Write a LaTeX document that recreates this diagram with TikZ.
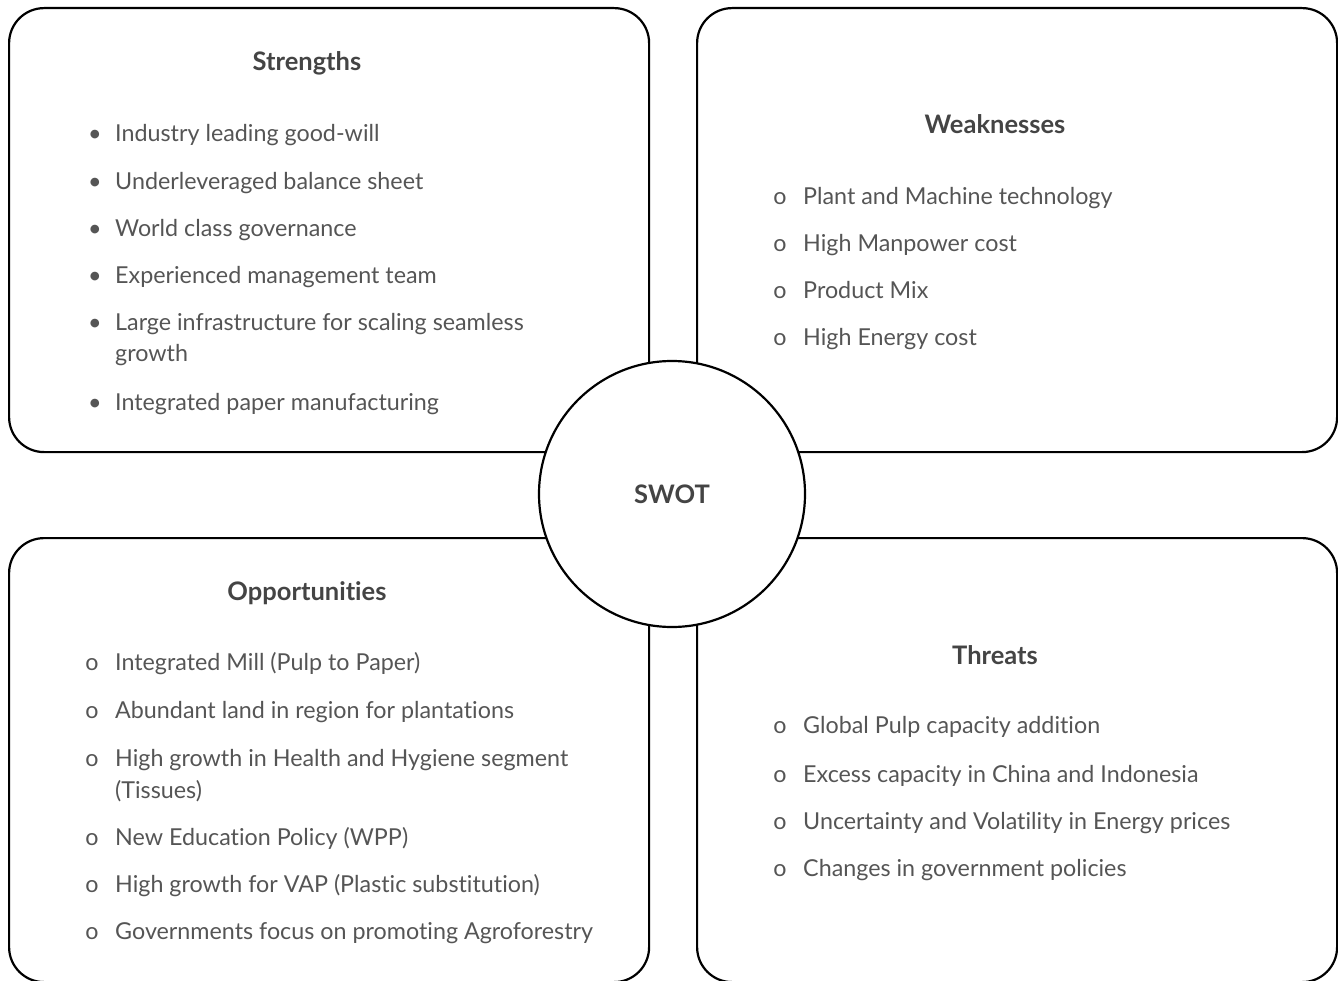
\documentclass[tikz,border=0pt]{standalone}
\usepackage{fontspec}
\setmainfont{Lato}[Ligatures=NoCommon]
\definecolor{txt}{HTML}{555555}
\definecolor{ttl}{HTML}{444444}
\begin{document}
\begin{tikzpicture}[x=1pt,y=-1pt,
  box/.style={draw=black, line width=2.2pt, rounded corners=35pt, minimum width=640pt, minimum height=444pt, anchor=north west, inner sep=0pt},
  item/.style={anchor=base west, inner sep=0pt, text=txt, font=\fontsize{23.3}{28}\selectfont},
  bul/.style={anchor=base, inner sep=0pt, text=txt, font=\fontsize{23.3}{28}\selectfont},
  ttlstyle/.style={anchor=base, inner sep=0pt, text=ttl, font=\fontsize{25.5}{30}\selectfont\bfseries}]
\useasboundingbox (0,0) rectangle (1338,981);
\node[box] (S) at (8,7) {};
\node[box] (W) at (696,7) {};
\node[box] (O) at (8,537) {};
\node[box] (T) at (696,537) {};
\node[circle, draw=black, fill=white, line width=2.2pt, minimum size=266pt, inner sep=0pt] (C) at (672,494) {};
\node[ttlstyle] (Clab) at (672,503) {SWOT};
% Strengths
\node[ttlstyle] (St) at (307,71) {Strengths};
\node[bul] (sb1) at (95,142) {•}; \node[item] (s1) at (115,142) {Industry leading good-will};
\node[bul] (sb2) at (95,190) {•}; \node[item] (s2) at (115,190) {Underleveraged balance sheet};
\node[bul] (sb3) at (95,237) {•}; \node[item] (s3) at (115,237) {World class governance};
\node[bul] (sb4) at (95,284) {•}; \node[item] (s4) at (115,284) {Experienced management team};
\node[bul] (sb5) at (95,331) {•}; \node[item] (s5) at (115,331) {Large infrastructure for scaling seamless};
\node[item] (s5b) at (115,362) {growth};
\node[bul] (sb6) at (95,410) {•}; \node[item] (s6) at (115,410) {Integrated paper manufacturing};
% Weaknesses
\node[ttlstyle] (Wt) at (995,134) {Weaknesses};
\node[bul] (wb1) at (780,205) {o}; \node[item] (w1) at (803,205) {Plant and Machine technology};
\node[bul] (wb2) at (780,252) {o}; \node[item] (w2) at (803,252) {High Manpower cost};
\node[bul] (wb3) at (780,299) {o}; \node[item] (w3) at (803,299) {Product Mix};
\node[bul] (wb4) at (780,346) {o}; \node[item] (w4) at (803,346) {High Energy cost};
% Opportunities
\node[ttlstyle] (Ot) at (307,600) {Opportunities};
\node[bul] (ob1) at (92,670) {o}; \node[item] (o1) at (115,670) {Integrated Mill (Pulp to Paper)};
\node[bul] (ob2) at (92,718) {o}; \node[item] (o2) at (115,718) {Abundant land in region for plantations};
\node[bul] (ob3) at (92,766) {o}; \node[item] (o3) at (115,766) {High growth in Health and Hygiene segment};
\node[item] (o3b) at (115,798) {(Tissues)};
\node[bul] (ob4) at (92,845) {o}; \node[item] (o4) at (115,845) {New Education Policy (WPP)};
\node[bul] (ob5) at (92,892) {o}; \node[item] (o5) at (115,892) {High growth for VAP (Plastic substitution)};
\node[bul] (ob6) at (92,939) {o}; \node[item] (o6) at (115,939) {Governments focus on promoting Agroforestry};
% Threats
\node[ttlstyle] (Tt) at (995,664) {Threats};
\node[bul] (tb1) at (780,733) {o}; \node[item] (t1) at (803,733) {Global Pulp capacity addition};
\node[bul] (tb2) at (780,782) {o}; \node[item] (t2) at (803,782) {Excess capacity in China and Indonesia};
\node[bul] (tb3) at (780,829) {o}; \node[item] (t3) at (803,829) {Uncertainty and Volatility in Energy prices};
\node[bul] (tb4) at (780,876) {o}; \node[item] (t4) at (803,876) {Changes in government policies};
\end{tikzpicture}
\end{document}
